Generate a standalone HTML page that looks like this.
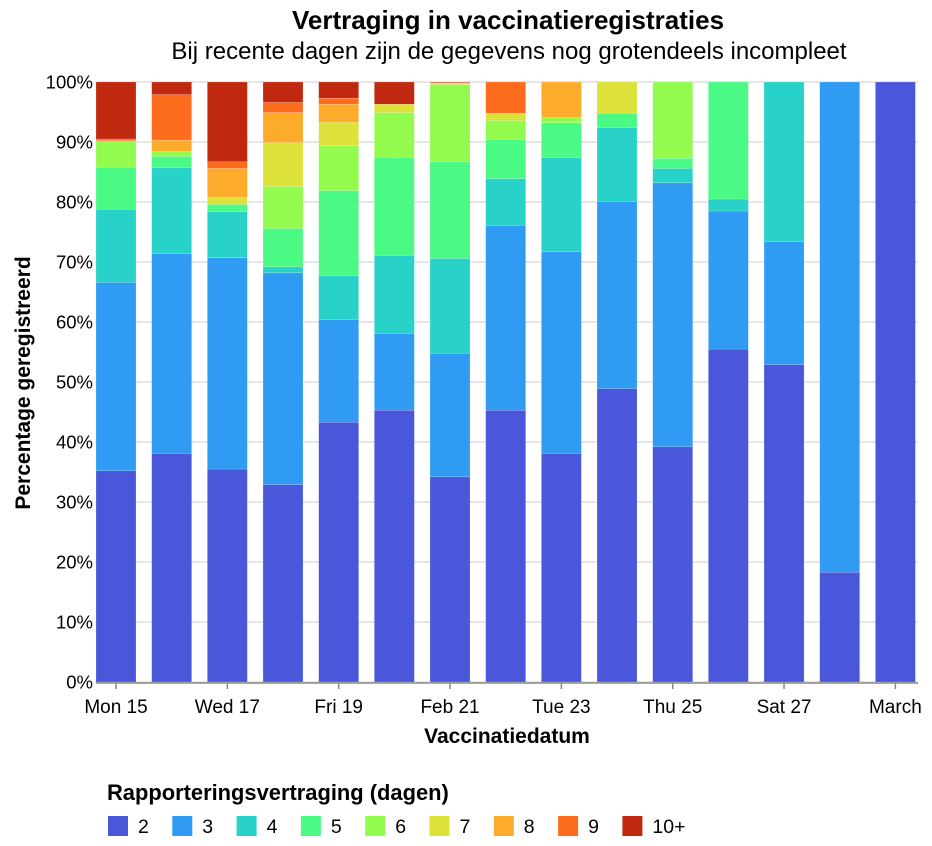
<!DOCTYPE html>
<html><head><meta charset="utf-8"><style>
body{margin:0;background:#fff;}
svg{display:block;font-family:"Liberation Sans",Helvetica,Arial,sans-serif;}
</style></head><body>
<svg id="chart" width="932" height="846">
<text x="508" y="29" text-anchor="middle" font-size="26" font-weight="bold">Vertraging in vaccinatieregistraties</text>
<text x="509" y="59" text-anchor="middle" font-size="24">Bij recente dagen zijn de gegevens nog grotendeels incompleet</text>
<g id="grid"></g>
<g id="bars"></g>
<g id="yaxis"></g>
<g id="xaxis"></g>
<text x="0" y="0" transform="translate(30,383) rotate(-90)" text-anchor="middle" font-size="21" font-weight="bold">Percentage geregistreerd</text>
<text x="507" y="743" text-anchor="middle" font-size="21" font-weight="bold">Vaccinatiedatum</text>
<text x="107" y="800" font-size="21.9" font-weight="bold">Rapporteringsvertraging (dagen)</text>
<g id="legend"></g>
</svg>
<script>
const categories = ["Mon 15","Tue 16","Wed 17","Thu 18","Fri 19","Sat 20","Feb 21","Mon 22","Tue 23","Wed 24","Thu 25","Fri 26","Sat 27","Feb 28","March"];
const tickLabels = ["Mon 15","","Wed 17","","Fri 19","","Feb 21","","Tue 23","","Thu 25","","Sat 27","","March"];
const seriesNames = ["2","3","4","5","6","7","8","9","10+"];
const colors = ["#4a57db","#2f9bf3","#28d2c8","#4bf985","#93fb4e","#dce23a","#fdab2a","#fd6b1d","#c0290f"];
const s2  = [35.2,38.1,35.5,32.9,43.3,45.3,34.2,45.3,38.1,48.9,39.2,55.5,52.9,18.3,100];
const s3  = [31.4,33.3,35.2,35.3,17.1,12.8,20.6,30.8,33.6,31.2,44.0,23.0,20.5,81.7,0];
const s4  = [12.2,14.3,7.7,1.0,7.3,13.0,15.8,7.8,15.7,12.3,2.4,2.0,26.6,0,0];
const s5  = [7.0,1.9,1.2,6.4,14.2,16.3,16.1,6.5,5.8,2.4,1.7,19.5,0,0,0];
const s6  = [4.4,0.8,0,7.0,7.5,7.5,12.9,3.2,0.9,0,12.7,0,0,0,0];
const s7  = [0,0,1.2,7.3,3.9,1.4,0.2,1.2,0,5.2,0,0,0,0,0];
const s8  = [0,1.9,4.8,5.0,3.0,0,0,0,5.9,0,0,0,0,0,0];
const s9  = [0.3,7.6,1.1,1.7,1.0,0,0.1,5.2,0,0,0,0,0,0,0];
const s10 = [9.5,2.1,13.3,3.4,2.7,3.7,0.1,0,0,0,0,0,0,0,0];
const series = [s2,s3,s4,s5,s6,s7,s8,s9,s10];
const yTicks = [0,10,20,30,40,50,60,70,80,90,100];

const NS="http://www.w3.org/2000/svg";
const X0=96, STEP=55.67, BW=40, Y0=682, Y1=82, XR=918;
function xPos(i){return X0+i*STEP;}
function yPos(v){return Y0-(v/100)*(Y0-Y1);}
function mk(tag,attrs,parent){const e=document.createElementNS(NS,tag);for(const k in attrs)e.setAttribute(k,attrs[k]);parent.appendChild(e);return e;}

const grid=document.getElementById('grid'), yaxis=document.getElementById('yaxis');
yTicks.forEach(t=>{
  const l=mk('line',{x1:X0,x2:XR,y1:yPos(t),y2:yPos(t),stroke:'#dddddd','stroke-width':1.5},grid);
  
  
  const tx=mk('text',{x:93,y:yPos(t)+6.5,'text-anchor':'end','font-size':18.5},yaxis);
  tx.textContent=t+'%';
  
  
});

const bars=document.getElementById('bars');
categories.forEach((c,i)=>{
  let cum=0;
  series.forEach((s,k)=>{
    const v=s[i]; if(!v) return;
    const top=cum+v;
    const r=mk('rect',{x:xPos(i),y:yPos(top),width:BW,height:yPos(cum)-yPos(top),fill:colors[k],stroke:'rgba(255,255,255,0.35)','stroke-width':0.5},bars);
    
    
    cum=top;
  });
});

const xaxis=document.getElementById('xaxis');
const dl=mk('line',{x1:X0,x2:XR,y1:683,y2:683,stroke:'#888','stroke-width':1.5},xaxis);


tickLabels.forEach((t,i)=>{
  if(!t) return;
  const cx=xPos(i)+BW/2;
  const tk=mk('line',{x1:cx,x2:cx,y1:683,y2:689,stroke:'#888','stroke-width':1.5},xaxis);
  
  
  const tx=mk('text',{x:cx,y:713,'text-anchor':'middle','font-size':19},xaxis);
  tx.textContent=t;
  
  
});

const legend=document.getElementById('legend');
seriesNames.forEach((n,k)=>{
  const x=108+k*64.3;
  const r=mk('rect',{x:x,y:816,width:20,height:20,fill:colors[k]},legend);
  
  
  const tx=mk('text',{x:x+30,y:833,'font-size':19.5},legend);
  tx.textContent=n;
  
  
});
</script>
</body></html>
